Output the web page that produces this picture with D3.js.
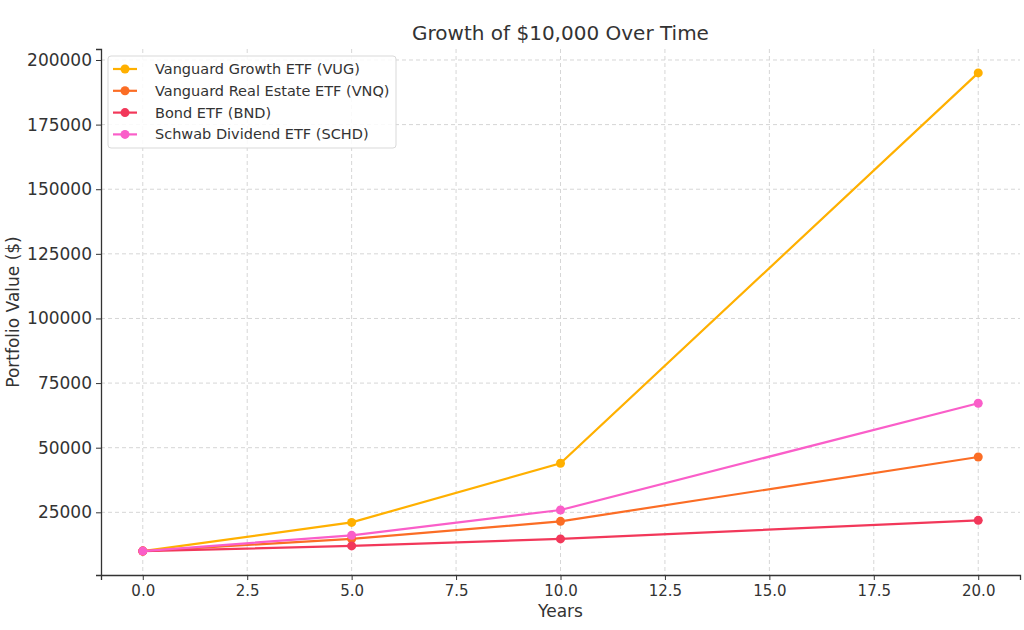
<!DOCTYPE html>
<html>
<head>
<meta charset="utf-8">
<script src="https://cdn.jsdelivr.net/npm/d3@7"></script>
<style>
  body { margin: 0; background: #fff; }
  text { font-family: "DejaVu Sans", sans-serif; fill: #333; }
</style>
</head>
<body>
<div id="chart"></div>
<script>
var years = [0, 5, 10, 20];
var seriesNames = ['Vanguard Growth ETF (VUG)', 'Vanguard Real Estate ETF (VNQ)', 'Bond ETF (BND)', 'Schwab Dividend ETF (SCHD)'];
var vug = [10000, 21100, 44000, 195000];
var vnq = [10000, 14700, 21500, 46400];
var bnd = [10000, 12000, 14700, 21900];
var schd = [10000, 16100, 25900, 67200];
var colors = ['#ffb000', '#fb6d25', '#f2385a', '#fa5ec9'];
var xTicks = [0, 2.5, 5, 7.5, 10, 12.5, 15, 17.5, 20];
var yTicks = [25000, 50000, 75000, 100000, 125000, 150000, 175000, 200000];

var series = [vug, vnq, bnd, schd];

var margin = { top: 49, right: 4, bottom: 55, left: 101 },
    width = 1024 - margin.left - margin.right,
    height = 630 - margin.top - margin.bottom;

var svg = d3.select('#chart').append('svg')
    .attr('width', 1024)
    .attr('height', 630)
  .append('g')
    .attr('transform', 'translate(' + margin.left + ',' + margin.top + ')');

var x = d3.scaleLinear().domain([-1, 21]).range([0, width]);
var y = d3.scaleLinear().domain([750, 204250]).range([height, 0]);

// grid
svg.append('g').selectAll('line.gx')
    .data(xTicks).enter().append('line')
    .attr('x1', d => x(d)).attr('x2', d => x(d))
    .attr('y1', 0).attr('y2', height)
    .attr('stroke', '#d6d6d6').attr('stroke-dasharray', '4,3');
svg.append('g').selectAll('line.gy')
    .data(yTicks).enter().append('line')
    .attr('y1', d => y(d)).attr('y2', d => y(d))
    .attr('x1', 0).attr('x2', width)
    .attr('stroke', '#d6d6d6').attr('stroke-dasharray', '4,3');

// axes
var xAxis = svg.append('g')
    .attr('transform', 'translate(0,' + height + ')')
    .call(d3.axisBottom(x).tickValues(xTicks).tickFormat(d3.format('.1f')).tickSizeOuter(0).tickSize(5).tickPadding(5));
var yAxis = svg.append('g')
    .call(d3.axisLeft(y).tickValues(yTicks).tickFormat(d3.format('d')).tickSizeOuter(0).tickSize(5).tickPadding(4));
[xAxis, yAxis].forEach(function (a) {
  a.select('.domain').attr('stroke', '#333').attr('stroke-width', 1.3);
  a.selectAll('.tick line').attr('stroke', '#333').attr('stroke-width', 1);
  a.selectAll('text').attr('fill', '#333').style('font-family', 'DejaVu Sans');
});
xAxis.selectAll('text').style('font-size', '15px');
yAxis.selectAll('text').style('font-size', '17px');

// lines
var line = d3.line().x((d, i) => x(years[i])).y(d => y(d));
series.forEach(function (s, k) {
  svg.append('path')
      .datum(s)
      .attr('fill', 'none')
      .attr('stroke', colors[k])
      .attr('stroke-width', 2.2)
      .attr('d', line);
  svg.selectAll('circle.s' + k)
      .data(s).enter().append('circle')
      .attr('cx', (d, i) => x(years[i]))
      .attr('cy', d => y(d))
      .attr('r', 4.5)
      .attr('fill', colors[k]);
});

// title and labels
svg.append('text')
    .attr('x', width / 2).attr('y', -9)
    .attr('text-anchor', 'middle')
    .style('font-size', '20px')
    .text('Growth of $10,000 Over Time');
svg.append('text')
    .attr('x', width / 2).attr('y', height + 42)
    .attr('text-anchor', 'middle')
    .style('font-size', '17px')
    .text('Years');
svg.append('text')
    .attr('transform', 'translate(' + (-82) + ',' + (height / 2) + ') rotate(-90)')
    .attr('text-anchor', 'middle')
    .style('font-size', '17px')
    .text('Portfolio Value ($)');

// legend
var legend = svg.append('g').attr('transform', 'translate(7,7)');
legend.append('rect')
    .attr('width', 288).attr('height', 92)
    .attr('rx', 3)
    .attr('fill', 'white').attr('fill-opacity', 0.85)
    .attr('stroke', '#d9d9d9');
seriesNames.forEach(function (name, k) {
  var g = legend.append('g').attr('transform', 'translate(0,' + (13 + k * 21.8) + ')');
  g.append('line').attr('x1', 5).attr('x2', 29).attr('stroke', colors[k]).attr('stroke-width', 2.2);
  g.append('circle').attr('cx', 17).attr('r', 4.5).attr('fill', colors[k]);
  g.append('text').attr('x', 47).attr('dy', '0.35em').style('font-size', '14.5px').text(name);
});
</script>
</body>
</html>
